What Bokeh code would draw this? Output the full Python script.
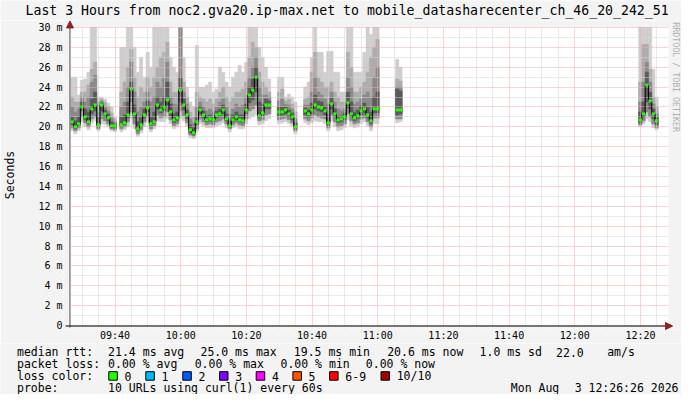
from bokeh.plotting import figure
from bokeh.layouts import column, row
from bokeh.models import Range1d, FixedTicker, PrintfTickFormatter, ColumnDataSource
from bokeh.core.properties import value
from bokeh.embed import file_html
from bokeh.resources import INLINE
import math

# ---------------- data ----------------
start_clock = (9, 26, 26)          # left edge of the graph (Mon Aug 3 2026)
step_seconds = 60
n_steps = 180
tick_labels = ["09:40", "10:00", "10:20", "10:40", "11:00", "11:20", "11:40", "12:00", "12:20"]
y_ticks = list(range(0, 31, 2))
G = None

# median rtt (ms) per 1-minute step
med = ([20.5, 20.0, 20.3, 22.0, 21.0, 20.5, 21.8, 22.2, 20.2, 22.2, 21.3, 20.9, 20.1, 20.1, G,
        20.2, 20.4, 21.2, 23.8, 21.3, 19.8, 20.2, 21.2, 21.9, 20.3, 20.5, 22.2, 21.7, 22.0, 22.7,
        21.5, 20.7, 20.9, 23.7, 22.2, 21.2, 19.7, 19.4, 20.5, 21.7, 21.2, 20.7, 20.8, 20.7, 21.2,
        21.3, 21.7, 20.8, 20.1, 20.7, 21.0, 20.7, 20.6, 21.7, 23.2, 23.7, 25.0, 21.1, 21.4, 22.2, 22.2,
        G, G, 21.5, 21.5, 21.7, 21.3, 21.0, 20.0, G, G,
        21.6, 21.3, 21.7, 22.2, 22.0, 21.9, 21.6, 20.4, 22.3, 21.3, 20.7, 20.8, 21.0, 22.4, 21.3,
        20.9, 21.1, 21.6, 21.8, 21.2, 20.6, 21.8, 21.8]
       + [G] * 5 + [21.7, 21.7] + [G] * 72 + [20.7, 21.3, 24.2, 22.6, 21.3, 20.6] + [G])

# smoke: tops of the four grey shades (lightest -> darkest)
hi1 = ([25.0, 25.0, 23.2, 24.7, 24.8, 25.5, 30.5, 30.5, 23.0, 23.0, 22.8, 22.4, 22.0, 21.0, G,
        28.0, 28.0, 30.5, 30.5, 28.0, 25.5, 27.0, 25.0, 27.5, 26.0, 30.5, 30.5, 30.5, 30.5, 30.5,
        27.0, 26.0, 25.5, 30.5, 27.0, 24.0, 22.5, 22.0, 28.2, 24.0, 24.0, 24.2, 24.5, 23.5, 23.8,
        26.0, 25.5, 24.5, 24.0, 25.0, 25.5, 26.2, 25.5, 26.5, 30.5, 30.5, 30.5, 28.0, 27.0, 26.0, 24.8,
        G, G, 25.0, 25.0, 23.0, 23.3, 23.0, 22.5, G, G,
        24.0, 24.5, 27.0, 30.5, 27.5, 27.5, 25.5, 27.6, 27.6, 25.5, 25.5, 23.5, 23.5, 30.5, 30.5,
        25.5, 25.5, 25.5, 27.5, 30.5, 29.3, 30.5, 30.5]
       + [G] * 5 + [26.8, 26.0] + [G] * 72 + [30.5, 30.5, 30.5, 30.5, 25.8, 23.0] + [G])
hi2 = ([23.0, 22.5, 22.5, 23.5, 23.5, 24.2, 25.8, 26.5, 22.5, 22.8, 22.5, 22.0, 21.4, 20.8, G,
        23.5, 24.5, 26.0, 27.8, 25.0, 23.0, 24.0, 23.5, 25.0, 24.0, 25.0, 26.0, 27.0, 27.5, 28.5,
        24.5, 23.5, 23.5, 30.5, 24.5, 23.0, 21.5, 21.0, 23.5, 23.0, 22.8, 22.5, 22.8, 22.3, 22.8,
        23.5, 24.0, 23.0, 22.5, 23.0, 23.5, 23.5, 23.8, 24.5, 27.0, 28.5, 28.0, 25.5, 24.5, 24.0, 23.5,
        G, G, 23.5, 23.8, 22.6, 22.8, 22.3, 21.5, G, G,
        22.8, 23.0, 25.5, 27.5, 25.0, 24.5, 24.0, 24.0, 24.5, 23.5, 23.0, 22.5, 22.5, 27.5, 26.0,
        23.5, 23.5, 24.0, 24.5, 25.5, 27.0, 28.0, 28.8]
       + [G] * 5 + [24.8, 24.6] + [G] * 72 + [24.5, 28.3, 28.3, 25.8, 23.0, 22.0] + [G])
hi3 = ([22.0, 21.5, 21.8, 23.0, 22.5, 23.0, 24.5, 25.2, 21.5, 22.6, 22.0, 21.6, 20.9, 20.5, G,
        22.0, 22.5, 24.0, 26.5, 23.5, 21.5, 22.0, 22.5, 23.5, 22.5, 23.0, 24.5, 24.0, 25.0, 26.5,
        23.0, 22.3, 22.2, 30.5, 23.5, 22.3, 20.8, 20.3, 22.0, 22.5, 22.0, 21.6, 21.8, 21.5, 22.0,
        22.5, 22.8, 22.0, 21.3, 21.8, 22.3, 22.0, 22.2, 23.0, 25.0, 26.0, 27.0, 24.0, 23.2, 23.2, 23.0,
        G, G, 22.6, 22.8, 22.3, 22.2, 21.8, 20.8, G, G,
        22.2, 22.2, 23.5, 25.0, 23.5, 23.2, 22.8, 22.3, 23.5, 22.5, 21.8, 21.6, 21.8, 25.0, 24.0,
        22.3, 22.5, 22.8, 23.2, 23.5, 23.0, 25.0, 26.0]
       + [G] * 5 + [24.0, 24.0] + [G] * 72 + [22.5, 24.5, 26.5, 24.5, 22.3, 21.3] + [G])
hi4 = ([21.0, 20.6, 21.0, 22.5, 21.8, 21.5, 22.8, 23.5, 21.0, 22.4, 21.7, 21.3, 20.5, 20.3, G,
        21.0, 21.2, 22.5, 24.5, 22.2, 20.5, 21.0, 21.8, 22.6, 21.0, 21.5, 23.0, 22.5, 23.0, 24.5,
        22.3, 21.3, 21.5, 25.0, 22.8, 21.7, 20.2, 19.9, 21.0, 22.1, 21.6, 21.1, 21.2, 21.0, 21.6,
        21.8, 22.2, 21.3, 20.6, 21.2, 21.5, 21.2, 21.2, 22.3, 24.0, 24.8, 26.0, 22.5, 22.3, 22.8, 22.6,
        G, G, 22.0, 22.0, 22.0, 21.7, 21.4, 20.4, G, G,
        21.9, 21.7, 22.4, 23.2, 22.6, 22.5, 22.1, 21.2, 22.9, 21.8, 21.1, 21.1, 21.4, 23.5, 22.5,
        21.5, 21.7, 22.1, 22.4, 22.0, 21.5, 23.0, 23.5]
       + [G] * 5 + [23.8, 23.6] + [G] * 72 + [21.5, 22.5, 25.5, 23.5, 21.8, 21.0] + [G])
# smoke: bottoms (lightest, middle, dark)
lo1 = ([19.6, 19.3, 19.6, 20.5, 20.0, 19.7, 20.4, 20.6, 19.6, 20.3, 20.2, 20.0, 19.6, 19.5, G,
        19.5, 19.7, 20.0, 20.8, 19.8, 19.0, 19.4, 20.0, 20.5, 19.5, 19.8, 20.6, 20.5, 20.5, 20.8,
        20.3, 19.8, 20.0, 20.8, 20.6, 20.0, 18.9, 18.8, 19.5, 20.3, 20.1, 19.9, 19.9, 19.9, 20.1,
        20.2, 20.4, 19.9, 19.5, 19.9, 20.0, 19.8, 19.8, 20.3, 20.8, 21.0, 21.2, 20.2, 20.3, 20.6, 20.8,
        G, G, 20.3, 20.4, 20.5, 20.3, 20.1, 19.3, G, G,
        20.4, 20.2, 20.4, 20.6, 20.5, 20.5, 20.3, 19.6, 20.6, 20.0, 19.6, 19.7, 19.9, 20.7, 20.1,
        19.9, 20.0, 20.3, 20.5, 20.1, 19.6, 20.3, 20.3]
       + [G] * 5 + [20.4, 20.5] + [G] * 72 + [20.0, 20.3, 20.8, 20.5, 19.9, 19.7] + [G])
lo2 = ([19.9, 19.6, 19.9, 21.0, 20.4, 20.0, 20.8, 21.0, 19.8, 20.8, 20.6, 20.3, 19.8, 19.7, G,
        19.8, 20.0, 20.5, 21.5, 20.3, 19.3, 19.7, 20.5, 21.0, 19.8, 20.1, 21.2, 20.9, 21.0, 21.5,
        20.7, 20.1, 20.3, 21.6, 21.1, 20.4, 19.2, 19.0, 19.8, 20.8, 20.5, 20.2, 20.3, 20.2, 20.5,
        20.6, 20.8, 20.3, 19.8, 20.2, 20.4, 20.2, 20.1, 20.8, 21.6, 21.8, 22.2, 20.6, 20.7, 21.2, 21.3,
        G, G, 20.7, 20.8, 20.9, 20.7, 20.4, 19.6, G, G,
        20.8, 20.6, 20.9, 21.2, 21.0, 20.9, 20.8, 19.9, 21.2, 20.5, 20.0, 20.1, 20.3, 21.3, 20.6,
        20.3, 20.4, 20.8, 20.9, 20.5, 20.0, 20.9, 20.9]
       + [G] * 5 + [20.8, 20.8] + [G] * 72 + [20.2, 20.6, 21.5, 21.0, 20.3, 19.9] + [G])
lo3 = ([20.2, 19.8, 20.1, 21.6, 20.7, 20.3, 21.3, 21.6, 20.0, 21.6, 21.0, 20.6, 19.9, 19.9, G,
        20.0, 20.2, 20.9, 22.5, 20.9, 19.6, 20.0, 20.9, 21.5, 20.1, 20.3, 21.8, 21.4, 21.6, 22.2,
        21.1, 20.4, 20.6, 22.5, 21.7, 20.8, 19.4, 19.2, 20.2, 21.3, 20.9, 20.5, 20.6, 20.5, 20.9,
        21.0, 21.3, 20.6, 19.9, 20.5, 20.7, 20.5, 20.4, 21.3, 22.4, 22.7, 23.5, 20.9, 21.1, 21.8, 21.8,
        G, G, 21.1, 21.2, 21.3, 21.0, 20.7, 19.8, G, G,
        21.2, 21.0, 21.3, 21.8, 21.6, 21.5, 21.2, 20.1, 21.8, 21.0, 20.4, 20.5, 20.7, 21.9, 21.0,
        20.6, 20.8, 21.2, 21.4, 20.9, 20.3, 21.4, 21.4]
       + [G] * 5 + [21.2, 21.3] + [G] * 72 + [20.4, 21.0, 22.5, 21.8, 20.8, 20.2] + [G])

title_text = "Last 3 Hours from noc2.gva20.ip-max.net to mobile_datasharecenter_ch_46_20_242_51"
rtt_texts = ["median rtt:", "21.4 ms avg", "25.0 ms max", "19.5 ms min", "20.6 ms now",
             "1.0 ms sd", "22.0", "am/s"]
loss_texts = ["packet loss:", "0.00 % avg", "0.00 % max", "0.00 % min", "0.00 % now"]
loss_labels = ["0", "1", "2", "3", "4", "5", "6-9", "10/10"]
loss_colors = ["#26ff00", "#00b8ff", "#0059ff", "#7e00ff", "#ff00ff", "#ff5500", "#ff0000", "#a10000"]
probe_texts = ["probe:", "10 URLs using curl(1) every 60s", "Mon Aug", "3 12:26:26 2026"]
credit_text = "RRDTOOL / TOBI OETIKER"

# ---------------- layout (page pixels) ----------------
W, H = 681, 394
TOP_H = 20                     # title strip
GX0, GX1 = 67, 661             # graph area: start / end of the 3 hours
GY30, GY0 = 27, 327            # pixel rows of 30 m and 0
FX0, FX1, FY0, FY1 = 60, 681, 20, 331   # plotting frame of the main figure
MAIN_B = 12
MAIN_H = (FY1 - FY0) + MAIN_B
LEG_H = H - TOP_H - MAIN_H
MONO = "DejaVu Sans Mono"
BG = "#f3f3f3"
SPAN = n_steps * step_seconds

def tx(px):                    # page x -> seconds since start
    return (px - GX0) * SPAN / (GX1 - GX0)
def vy(py):                    # page y -> milliseconds
    return (GY0 - py) * 30.0 / (GY0 - GY30)

t0 = start_clock[0] * 3600 + start_clock[1] * 60 + start_clock[2]
def clock_to_x(hh, mm):
    return hh * 3600 + mm * 60 - t0

major_x = [clock_to_x(int(s[:2]), int(s[3:])) for s in tick_labels]
minor_x = [clock_to_x(m // 60, m % 60) for m in range(9 * 60 + 30, 12 * 60 + 26, 5)]
minor_x = [v for v in minor_x if v not in major_x]

def strip(w, h):
    f = figure(width=w, height=h, output_backend="svg", toolbar_location=None, title=None,
               x_range=Range1d(0, w), y_range=Range1d(h, 0),
               x_axis_location=None, y_axis_location=None,
               min_border_left=0, min_border_right=0, min_border_top=0, min_border_bottom=0)
    f.grid.visible = False
    f.outline_line_color = None
    f.background_fill_color = BG
    f.border_fill_color = BG
    return f

def put_text(f, xs, ys, texts, size="11.5px", align="left", angle=0.0, color="#000000"):
    f.text(x=xs, y=ys, text=texts, text_font=value(MONO), text_font_size=value(size),
           text_align=align, text_baseline="middle", angle=angle, text_color=color)

# ---------------- main graph ----------------
p = figure(width=W, height=MAIN_H, output_backend="svg", toolbar_location=None, title=None,
           x_range=Range1d(tx(FX0), tx(FX1)), y_range=Range1d(vy(FY1), vy(FY0)),
           min_border_left=FX0, min_border_right=0, min_border_top=0, min_border_bottom=MAIN_B)
p.border_fill_color = BG
p.background_fill_color = "#ffffff"
p.outline_line_color = None

p.xgrid.ticker = FixedTicker(ticks=major_x, minor_ticks=minor_x)
p.ygrid.ticker = FixedTicker(ticks=y_ticks, minor_ticks=list(range(1, 30, 2)))
for g in (p.xgrid, p.ygrid):
    g.grid_line_color = "#f2aaaa"
    g.grid_line_dash = "1 1"
    g.grid_line_width = 1
    g.minor_grid_line_color = "#d4d4d4"
    g.minor_grid_line_dash = "1 1"
    g.level = "guide"

p.xaxis.ticker = FixedTicker(ticks=major_x)
p.xaxis.major_label_overrides = {x: s for x, s in zip(major_x, tick_labels)}
p.yaxis.ticker = FixedTicker(ticks=y_ticks)
p.yaxis.formatter = PrintfTickFormatter(format="%d m")
p.yaxis.major_label_overrides = {0: "0"}
for ax in (p.xaxis, p.yaxis):
    ax.axis_line_color = None
    ax.major_tick_line_color = None
    ax.minor_tick_line_color = None
    ax.major_tick_out = 0
    ax.major_tick_in = 0
    ax.major_label_text_font = MONO
    ax.major_label_text_font_size = "10px"
    ax.major_label_text_color = "#000000"
p.yaxis.major_label_standoff = 1
p.xaxis.major_label_standoff = 0
p.yaxis.axis_label = "Seconds"
p.yaxis.axis_label_text_font = MONO
p.yaxis.axis_label_text_font_size = "11.5px"
p.yaxis.axis_label_text_font_style = "normal"
p.yaxis.axis_label_text_color = "#000000"
p.yaxis.axis_label_standoff = 18

def band(lo, hi):
    L, R, B, T = [], [], [], []
    for k in range(n_steps):
        if lo[k] is None or hi[k] is None:
            continue
        L.append(k * step_seconds); R.append((k + 1) * step_seconds)
        B.append(lo[k]); T.append(hi[k])
    return ColumnDataSource(dict(left=L, right=R, bottom=B, top=T))

for lo, hi, col in ((lo1, hi1, "#cecece"), (lo2, hi2, "#adadad"),
                    (lo2, hi3, "#8a8a8a"), (lo3, hi4, "#5a5a5a")):
    p.quad(left="left", right="right", bottom="bottom", top="top", source=band(lo, hi),
           fill_color=col, line_color=col, line_width=0.5)

x0, y0, x1, y1 = [], [], [], []
for k in range(n_steps):
    if med[k] is None:
        continue
    x0.append(k * step_seconds); x1.append((k + 1) * step_seconds); y0.append(med[k]); y1.append(med[k])
    if k + 1 < n_steps and med[k + 1] is not None:
        x0.append((k + 1) * step_seconds); x1.append((k + 1) * step_seconds)
        y0.append(med[k]); y1.append(med[k + 1])
r = p.segment(x0=x0, y0=y0, x1=x1, y1=y1, line_color="#000000", line_width=1)
r.level = "annotation"
gk = [k for k in range(n_steps) if med[k] is not None]
r = p.quad(left=[k * step_seconds for k in gk], right=[(k + 1) * step_seconds for k in gk],
           bottom=[med[k] - 0.15 for k in gk], top=[med[k] + 0.15 for k in gk],
           fill_color=loss_colors[0], line_color=None)
r.level = "annotation"

# canvas colour around the white graph area (inside the enlarged frame)
xa, xb, ya, yb = tx(FX0), tx(FX1), vy(FY1), vy(FY0)
r = p.quad(left=[xa, xa, tx(668), xa], right=[0, xb, xb, xb],
           bottom=[ya, vy(26.5), ya, ya], top=[yb, yb, yb, vy(328)],
           fill_color=BG, line_color=None)
r.level = "annotation"

# axes with arrow heads
ARROW = "#8f2020"
r = p.segment(x0=[tx(66.5), tx(62)], y0=[vy(329), vy(327.5)],
              x1=[tx(66.5), tx(668)], y1=[vy(22), vy(327.5)],
              line_color=["#505050", "#000000"], line_width=1)
r.level = "annotation"
r = p.patches(xs=[[tx(63), tx(70), tx(66.5)], [tx(665), tx(665), tx(672)]],
              ys=[[vy(27.5), vy(27.5), vy(20.5)], [vy(324), vy(331), vy(327.5)]],
              fill_color=ARROW, line_color=ARROW)
r.level = "annotation"
r = p.text(x=[tx(675.5)], y=[vy(77)], text=[credit_text], text_font=value(MONO),
           text_font_size=value("8.3px"), text_align="center", text_baseline="middle",
           angle=-math.pi / 2, text_color="#b0b0b0")
r.level = "annotation"

# ---------------- title and legend strips ----------------
top = strip(W, TOP_H)
put_text(top, [25], [10.3], [title_text], size="13.2px")

leg = strip(W, LEG_H)
L1, L2, L3, L4 = 8.5, 20.5, 32.5, 44.3
put_text(leg, [16.5, 107.6, 200, 293.3, 386.7, 479.1, 555.6, 606.7], [L1] * 8, rtt_texts)
put_text(leg, [16.5, 107.6, 194.2, 280, 365.3], [L2] * 5, loss_texts)
put_text(leg, [16.5], [L3], ["loss color:"])
sq_x = [108.3, 145.3, 182.3, 219.0, 255.7, 292.4, 329.1, 380.5]
leg.quad(left=sq_x, right=[v + 8.5 for v in sq_x], top=[L3 - 4.3] * 8, bottom=[L3 + 4.2] * 8,
         fill_color=loss_colors, line_color="#000000", line_width=1)
put_text(leg, [v + 15.7 for v in sq_x], [L3] * 8, loss_labels)
put_text(leg, [16.5, 107.5, 510.3], [L4] * 3, probe_texts[:3])
put_text(leg, [678], [L4], probe_texts[3:], align="right")

layout = column(top, row(p), leg)
open("out.html", "w").write(file_html(layout, INLINE))
